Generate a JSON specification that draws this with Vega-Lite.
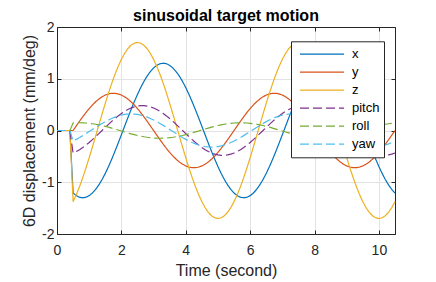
{
"$schema":"https://vega.github.io/schema/vega-lite/v6.json",
"width":338,"height":207,
"autosize":{"type":"none"},
"padding":{"left":57,"top":27,"right":41,"bottom":48},
"background":"white",
"title":{"text":"sinusoidal target motion","fontSize":16,"fontWeight":"bold","font":"Liberation Sans","color":"#000000","offset":-4,"anchor":"middle"},
"config":{"view":{"stroke":null},"font":"Liberation Sans",
 "axis":{"domainColor":"#262626","domainWidth":1,"tickColor":"#262626","tickWidth":1,"labelColor":"#262626","labelFont":"Liberation Sans","labelFontSize":14,"titleFont":"Liberation Sans","titleFontSize":16,"titleFontWeight":"normal","titleColor":"#262626","gridColor":"#e3e3e3","gridWidth":1}},
"data":{"values":[
{"t":0,"x":0,"y":0,"z":0,"pitch":0,"roll":0,"yaw":0},
{"t":0.4,"x":0,"y":0,"z":0,"pitch":0,"roll":0,"yaw":0},
{"t":0.5,"x":-1.209,"y":0,"z":-1.375,"pitch":-0.434,"roll":0.145,"yaw":-0.204},
{"t":0.6,"x":-1.259,"y":0.09,"z":-1.239,"pitch":-0.405,"roll":0.149,"yaw":-0.171},
{"t":0.7,"x":-1.29,"y":0.179,"z":-1.084,"pitch":-0.37,"roll":0.15,"yaw":-0.136},
{"t":0.8,"x":-1.3,"y":0.265,"z":-0.911,"pitch":-0.329,"roll":0.149,"yaw":-0.099},
{"t":0.9,"x":-1.29,"y":0.347,"z":-0.724,"pitch":-0.282,"roll":0.145,"yaw":-0.06},
{"t":1.0,"x":-1.259,"y":0.423,"z":-0.525,"pitch":-0.231,"roll":0.139,"yaw":-0.02},
{"t":1.1,"x":-1.209,"y":0.493,"z":-0.319,"pitch":-0.177,"roll":0.131,"yaw":0.02},
{"t":1.2,"x":-1.139,"y":0.555,"z":-0.107,"pitch":-0.119,"roll":0.121,"yaw":0.06},
{"t":1.3,"x":-1.052,"y":0.608,"z":0.107,"pitch":-0.06,"roll":0.109,"yaw":0.099},
{"t":1.4,"x":-0.948,"y":0.651,"z":0.319,"pitch":0,"roll":0.096,"yaw":0.136},
{"t":1.5,"x":-0.829,"y":0.685,"z":0.525,"pitch":0.06,"roll":0.08,"yaw":0.171},
{"t":1.6,"x":-0.697,"y":0.707,"z":0.724,"pitch":0.119,"roll":0.064,"yaw":0.204},
{"t":1.7,"x":-0.554,"y":0.719,"z":0.911,"pitch":0.177,"roll":0.046,"yaw":0.233},
{"t":1.8,"x":-0.402,"y":0.719,"z":1.084,"pitch":0.231,"roll":0.028,"yaw":0.259},
{"t":1.9,"x":-0.244,"y":0.707,"z":1.239,"pitch":0.282,"roll":0.009,"yaw":0.28},
{"t":2.0,"x":-0.082,"y":0.685,"z":1.375,"pitch":0.329,"roll":-0.009,"yaw":0.298},
{"t":2.1,"x":0.082,"y":0.651,"z":1.49,"pitch":0.37,"roll":-0.028,"yaw":0.31},
{"t":2.2,"x":0.244,"y":0.608,"z":1.581,"pitch":0.405,"roll":-0.046,"yaw":0.317},
{"t":2.3,"x":0.402,"y":0.555,"z":1.647,"pitch":0.434,"roll":-0.064,"yaw":0.32},
{"t":2.4,"x":0.554,"y":0.493,"z":1.687,"pitch":0.457,"roll":-0.08,"yaw":0.317},
{"t":2.5,"x":0.697,"y":0.423,"z":1.7,"pitch":0.472,"roll":-0.096,"yaw":0.31},
{"t":2.6,"x":0.829,"y":0.347,"z":1.687,"pitch":0.479,"roll":-0.109,"yaw":0.298},
{"t":2.7,"x":0.948,"y":0.265,"z":1.647,"pitch":0.479,"roll":-0.121,"yaw":0.28},
{"t":2.8,"x":1.052,"y":0.179,"z":1.581,"pitch":0.472,"roll":-0.131,"yaw":0.259},
{"t":2.9,"x":1.139,"y":0.09,"z":1.49,"pitch":0.457,"roll":-0.139,"yaw":0.233},
{"t":3.0,"x":1.209,"y":0,"z":1.375,"pitch":0.434,"roll":-0.145,"yaw":0.204},
{"t":3.1,"x":1.259,"y":-0.09,"z":1.239,"pitch":0.405,"roll":-0.149,"yaw":0.171},
{"t":3.2,"x":1.29,"y":-0.179,"z":1.084,"pitch":0.37,"roll":-0.15,"yaw":0.136},
{"t":3.3,"x":1.3,"y":-0.265,"z":0.911,"pitch":0.329,"roll":-0.149,"yaw":0.099},
{"t":3.4,"x":1.29,"y":-0.347,"z":0.724,"pitch":0.282,"roll":-0.145,"yaw":0.06},
{"t":3.5,"x":1.259,"y":-0.423,"z":0.525,"pitch":0.231,"roll":-0.139,"yaw":0.02},
{"t":3.6,"x":1.209,"y":-0.493,"z":0.319,"pitch":0.177,"roll":-0.131,"yaw":-0.02},
{"t":3.7,"x":1.139,"y":-0.555,"z":0.107,"pitch":0.119,"roll":-0.121,"yaw":-0.06},
{"t":3.8,"x":1.052,"y":-0.608,"z":-0.107,"pitch":0.06,"roll":-0.109,"yaw":-0.099},
{"t":3.9,"x":0.948,"y":-0.651,"z":-0.319,"pitch":0,"roll":-0.096,"yaw":-0.136},
{"t":4.0,"x":0.829,"y":-0.685,"z":-0.525,"pitch":-0.06,"roll":-0.08,"yaw":-0.171},
{"t":4.1,"x":0.697,"y":-0.707,"z":-0.724,"pitch":-0.119,"roll":-0.064,"yaw":-0.204},
{"t":4.2,"x":0.554,"y":-0.719,"z":-0.911,"pitch":-0.177,"roll":-0.046,"yaw":-0.233},
{"t":4.3,"x":0.402,"y":-0.719,"z":-1.084,"pitch":-0.231,"roll":-0.028,"yaw":-0.259},
{"t":4.4,"x":0.244,"y":-0.707,"z":-1.239,"pitch":-0.282,"roll":-0.009,"yaw":-0.28},
{"t":4.5,"x":0.082,"y":-0.685,"z":-1.375,"pitch":-0.329,"roll":0.009,"yaw":-0.298},
{"t":4.6,"x":-0.082,"y":-0.651,"z":-1.49,"pitch":-0.37,"roll":0.028,"yaw":-0.31},
{"t":4.7,"x":-0.244,"y":-0.608,"z":-1.581,"pitch":-0.405,"roll":0.046,"yaw":-0.317},
{"t":4.8,"x":-0.402,"y":-0.555,"z":-1.647,"pitch":-0.434,"roll":0.064,"yaw":-0.32},
{"t":4.9,"x":-0.554,"y":-0.493,"z":-1.687,"pitch":-0.457,"roll":0.08,"yaw":-0.317},
{"t":5.0,"x":-0.697,"y":-0.423,"z":-1.7,"pitch":-0.472,"roll":0.096,"yaw":-0.31},
{"t":5.1,"x":-0.829,"y":-0.347,"z":-1.687,"pitch":-0.479,"roll":0.109,"yaw":-0.298},
{"t":5.2,"x":-0.948,"y":-0.265,"z":-1.647,"pitch":-0.479,"roll":0.121,"yaw":-0.28},
{"t":5.3,"x":-1.052,"y":-0.179,"z":-1.581,"pitch":-0.472,"roll":0.131,"yaw":-0.259},
{"t":5.4,"x":-1.139,"y":-0.09,"z":-1.49,"pitch":-0.457,"roll":0.139,"yaw":-0.233},
{"t":5.5,"x":-1.209,"y":0,"z":-1.375,"pitch":-0.434,"roll":0.145,"yaw":-0.204},
{"t":5.6,"x":-1.259,"y":0.09,"z":-1.239,"pitch":-0.405,"roll":0.149,"yaw":-0.171},
{"t":5.7,"x":-1.29,"y":0.179,"z":-1.084,"pitch":-0.37,"roll":0.15,"yaw":-0.136},
{"t":5.8,"x":-1.3,"y":0.265,"z":-0.911,"pitch":-0.329,"roll":0.149,"yaw":-0.099},
{"t":5.9,"x":-1.29,"y":0.347,"z":-0.724,"pitch":-0.282,"roll":0.145,"yaw":-0.06},
{"t":6.0,"x":-1.259,"y":0.423,"z":-0.525,"pitch":-0.231,"roll":0.139,"yaw":-0.02},
{"t":6.1,"x":-1.209,"y":0.493,"z":-0.319,"pitch":-0.177,"roll":0.131,"yaw":0.02},
{"t":6.2,"x":-1.139,"y":0.555,"z":-0.107,"pitch":-0.119,"roll":0.121,"yaw":0.06},
{"t":6.3,"x":-1.052,"y":0.608,"z":0.107,"pitch":-0.06,"roll":0.109,"yaw":0.099},
{"t":6.4,"x":-0.948,"y":0.651,"z":0.319,"pitch":0,"roll":0.096,"yaw":0.136},
{"t":6.5,"x":-0.829,"y":0.685,"z":0.525,"pitch":0.06,"roll":0.08,"yaw":0.171},
{"t":6.6,"x":-0.697,"y":0.707,"z":0.724,"pitch":0.119,"roll":0.064,"yaw":0.204},
{"t":6.7,"x":-0.554,"y":0.719,"z":0.911,"pitch":0.177,"roll":0.046,"yaw":0.233},
{"t":6.8,"x":-0.402,"y":0.719,"z":1.084,"pitch":0.231,"roll":0.028,"yaw":0.259},
{"t":6.9,"x":-0.244,"y":0.707,"z":1.239,"pitch":0.282,"roll":0.009,"yaw":0.28},
{"t":7.0,"x":-0.082,"y":0.685,"z":1.375,"pitch":0.329,"roll":-0.009,"yaw":0.298},
{"t":7.1,"x":0.082,"y":0.651,"z":1.49,"pitch":0.37,"roll":-0.028,"yaw":0.31},
{"t":7.2,"x":0.244,"y":0.608,"z":1.581,"pitch":0.405,"roll":-0.046,"yaw":0.317},
{"t":7.3,"x":0.402,"y":0.555,"z":1.647,"pitch":0.434,"roll":-0.064,"yaw":0.32},
{"t":7.4,"x":0.554,"y":0.493,"z":1.687,"pitch":0.457,"roll":-0.08,"yaw":0.317},
{"t":7.5,"x":0.697,"y":0.423,"z":1.7,"pitch":0.472,"roll":-0.096,"yaw":0.31},
{"t":7.6,"x":0.829,"y":0.347,"z":1.687,"pitch":0.479,"roll":-0.109,"yaw":0.298},
{"t":7.7,"x":0.948,"y":0.265,"z":1.647,"pitch":0.479,"roll":-0.121,"yaw":0.28},
{"t":7.8,"x":1.052,"y":0.179,"z":1.581,"pitch":0.472,"roll":-0.131,"yaw":0.259},
{"t":7.9,"x":1.139,"y":0.09,"z":1.49,"pitch":0.457,"roll":-0.139,"yaw":0.233},
{"t":8.0,"x":1.209,"y":0,"z":1.375,"pitch":0.434,"roll":-0.145,"yaw":0.204},
{"t":8.1,"x":1.259,"y":-0.09,"z":1.239,"pitch":0.405,"roll":-0.149,"yaw":0.171},
{"t":8.2,"x":1.29,"y":-0.179,"z":1.084,"pitch":0.37,"roll":-0.15,"yaw":0.136},
{"t":8.3,"x":1.3,"y":-0.265,"z":0.911,"pitch":0.329,"roll":-0.149,"yaw":0.099},
{"t":8.4,"x":1.29,"y":-0.347,"z":0.724,"pitch":0.282,"roll":-0.145,"yaw":0.06},
{"t":8.5,"x":1.259,"y":-0.423,"z":0.525,"pitch":0.231,"roll":-0.139,"yaw":0.02},
{"t":8.6,"x":1.209,"y":-0.493,"z":0.319,"pitch":0.177,"roll":-0.131,"yaw":-0.02},
{"t":8.7,"x":1.139,"y":-0.555,"z":0.107,"pitch":0.119,"roll":-0.121,"yaw":-0.06},
{"t":8.8,"x":1.052,"y":-0.608,"z":-0.107,"pitch":0.06,"roll":-0.109,"yaw":-0.099},
{"t":8.9,"x":0.948,"y":-0.651,"z":-0.319,"pitch":0,"roll":-0.096,"yaw":-0.136},
{"t":9.0,"x":0.829,"y":-0.685,"z":-0.525,"pitch":-0.06,"roll":-0.08,"yaw":-0.171},
{"t":9.1,"x":0.697,"y":-0.707,"z":-0.724,"pitch":-0.119,"roll":-0.064,"yaw":-0.204},
{"t":9.2,"x":0.554,"y":-0.719,"z":-0.911,"pitch":-0.177,"roll":-0.046,"yaw":-0.233},
{"t":9.3,"x":0.402,"y":-0.719,"z":-1.084,"pitch":-0.231,"roll":-0.028,"yaw":-0.259},
{"t":9.4,"x":0.244,"y":-0.707,"z":-1.239,"pitch":-0.282,"roll":-0.009,"yaw":-0.28},
{"t":9.5,"x":0.082,"y":-0.685,"z":-1.375,"pitch":-0.329,"roll":0.009,"yaw":-0.298},
{"t":9.6,"x":-0.082,"y":-0.651,"z":-1.49,"pitch":-0.37,"roll":0.028,"yaw":-0.31},
{"t":9.7,"x":-0.244,"y":-0.608,"z":-1.581,"pitch":-0.405,"roll":0.046,"yaw":-0.317},
{"t":9.8,"x":-0.402,"y":-0.555,"z":-1.647,"pitch":-0.434,"roll":0.064,"yaw":-0.32},
{"t":9.9,"x":-0.554,"y":-0.493,"z":-1.687,"pitch":-0.457,"roll":0.08,"yaw":-0.317},
{"t":10.0,"x":-0.697,"y":-0.423,"z":-1.7,"pitch":-0.472,"roll":0.096,"yaw":-0.31},
{"t":10.1,"x":-0.829,"y":-0.347,"z":-1.687,"pitch":-0.479,"roll":0.109,"yaw":-0.298},
{"t":10.2,"x":-0.948,"y":-0.265,"z":-1.647,"pitch":-0.479,"roll":0.121,"yaw":-0.28},
{"t":10.3,"x":-1.052,"y":-0.179,"z":-1.581,"pitch":-0.472,"roll":0.131,"yaw":-0.259},
{"t":10.4,"x":-1.139,"y":-0.09,"z":-1.49,"pitch":-0.457,"roll":0.139,"yaw":-0.233},
{"t":10.5,"x":-1.209,"y":0,"z":-1.375,"pitch":-0.434,"roll":0.145,"yaw":-0.204}
]},
"transform":[{"fold":["x","y","z","pitch","roll","yaw"],"as":["series","value"]}],
"layer":[
{"mark":{"type":"line","strokeWidth":1.2},
 "encoding":{
  "x":{"field":"t","type":"quantitative","scale":{"domain":[0,10.5],"nice":false,"zero":false},
       "axis":{"orient":"bottom","values":[0,2,4,6,8,10],"grid":true,"tickSize":-4,"labelPadding":13,"title":"Time (second)","titlePadding":5,"labelFlush":false}},
  "y":{"field":"value","type":"quantitative","scale":{"domain":[-2,2],"nice":false},
       "axis":{"orient":"left","values":[-2,-1,0,1,2],"grid":true,"tickSize":-4,"labelPadding":7,"title":"6D displacement (mm/deg)","titlePadding":4,"labelExpr":"replace(datum.label, '−', '-')"}},
  "color":{"field":"series","type":"nominal",
       "scale":{"domain":["x","y","z","pitch","roll","yaw"],"range":["#0072BD","#D95319","#EDB120","#7E2F8E","#77AC30","#4DBEEE"]},
       "legend":{"title":null,"orient":"none","legendX":234,"legendY":14.3,"strokeColor":"#262626","fillColor":"white","padding":4,"symbolType":"stroke","symbolSize":1936,"symbolStrokeWidth":1.3,"clipHeight":17.5,"rowPadding":0,"labelFont":"Liberation Sans","labelFontSize":13,"labelColor":"#000000","labelOffset":7,"symbolOffset":4}},
  "strokeDash":{"field":"series","type":"nominal",
       "scale":{"domain":["x","y","z","pitch","roll","yaw"],"range":[[1,0],[1,0],[1,0],[9,4],[9,4],[9,4]]},
       "legend":{"title":null,"orient":"none","legendX":234,"legendY":14.3,"strokeColor":"#262626","fillColor":"white","padding":4,"symbolType":"stroke","symbolSize":1936,"symbolStrokeWidth":1.3,"clipHeight":17.5,"rowPadding":0,"labelFont":"Liberation Sans","labelFontSize":13,"labelColor":"#000000","labelOffset":7,"symbolOffset":4}}
 }},
{"mark":{"type":"point","opacity":0},
 "encoding":{
  "x":{"field":"t","type":"quantitative","axis":{"orient":"top","values":[0,2,4,6,8,10],"grid":false,"tickSize":-4,"labels":false,"title":null}},
  "y":{"field":"value","type":"quantitative","axis":{"orient":"right","values":[-2,-1,0,1,2],"grid":false,"tickSize":-4,"labels":false,"title":null}}
 }}
]
}
